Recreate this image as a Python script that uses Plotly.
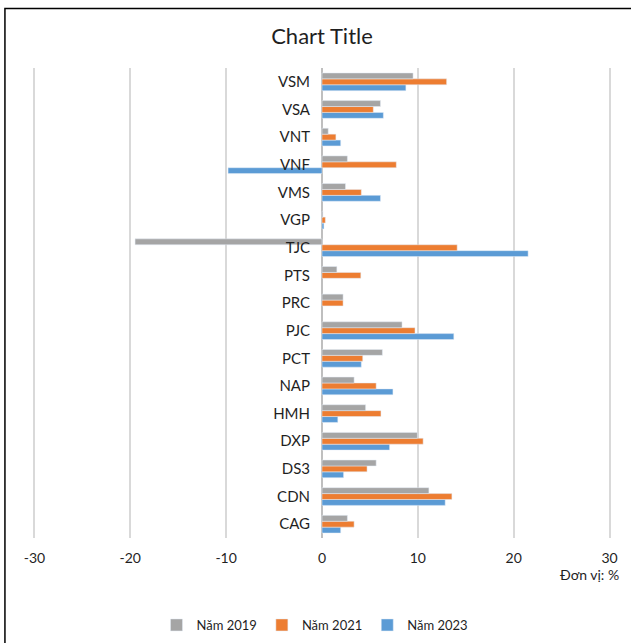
import plotly.graph_objects as go

# Ticker symbols, bottom to top
categories = ["CAG", "CDN", "DS3", "DXP", "HMH", "NAP", "PCT", "PJC", "PRC",
              "PTS", "TJC", "VGP", "VMS", "VNF", "VNT", "VSA", "VSM"]

# Values in % per year (None = no value reported)
nam_2019 = [2.65, 11.15, 5.65, 9.95, 4.55, 3.35, 6.3, 8.35, 2.2,
            1.55, -19.5, 0.1, 2.45, 2.65, 0.65, 6.1, 9.5]
nam_2021 = [3.35, 13.55, 4.7, 10.55, 6.15, 5.65, 4.25, 9.7, 2.2,
            4.05, 14.1, 0.35, 4.1, 7.75, 1.45, 5.35, 13.0]
nam_2023 = [1.95, 12.85, 2.25, 7.05, 1.65, 7.4, 4.1, 13.75, None,
            None, 21.5, 0.2, 6.1, -9.8, 1.95, 6.4, 8.75]

x_ticks = [-30, -20, -10, 0, 10, 20, 30]

FONT = "Lato, 'Open Sans', sans-serif"
TEXT = "#1f1f1f"

W, H = 631, 643
PAD = 0.25                       # small range padding so edge gridlines render
PX_PER_UNIT = 9.6
ML = 34 - PAD * PX_PER_UNIT
MR = W - (610 + PAD * PX_PER_UNIT)
MT, MB = 68, H - 538
PW = W - ML - MR
PH = H - MT - MB


def px_x(px):
    return (px - ML) / PW


def px_y(py):
    return (H - MB - py) / PH


fig = go.Figure()
# Added bottom-to-top within each group so 2019 sits on top
fig.add_trace(go.Bar(y=categories, x=nam_2023, orientation="h",
                     name="Năm 2023", marker_color="#5B9BD5"))
fig.add_trace(go.Bar(y=categories, x=nam_2021, orientation="h",
                     name="Năm 2021", marker_color="#ED7D31"))
fig.add_trace(go.Bar(y=categories, x=nam_2019, orientation="h",
                     name="Năm 2019", marker_color="#A5A5A5"))

fig.update_layout(
    width=W, height=H,
    margin=dict(l=ML, r=MR, t=MT, b=MB, autoexpand=False),
    paper_bgcolor="white", plot_bgcolor="white",
    barmode="group", bargap=0.36, bargroupgap=0,
    font=dict(family=FONT, color=TEXT, size=13),
    title=dict(text="Chart Title", x=px_x(322), xref="paper", xanchor="center",
               y=1 - 36 / H, yanchor="middle",
               font=dict(family=FONT, size=22, color=TEXT)),
    xaxis=dict(range=[-30 - PAD, 30 + PAD], tickvals=x_ticks,
               ticktext=[str(v) for v in x_ticks],
               showgrid=True, gridcolor="#D9D9D9", gridwidth=1.5,
               zeroline=True, zerolinecolor="#BFBFBF", zerolinewidth=2,
               showline=False, ticks="", ticklabelstandoff=10,
               automargin=False,
               tickfont=dict(size=14, color=TEXT), fixedrange=True),
    yaxis=dict(categoryorder="array", categoryarray=categories,
               anchor="free", position=0.5, showgrid=False, zeroline=False,
               showline=False, ticks="", ticklabelstandoff=12,
               automargin=False,
               tickfont=dict(size=15, color=TEXT), fixedrange=True),
    legend=dict(orientation="h", traceorder="reversed",
                xref="container", x=315 / W, xanchor="center",
                yref="container", y=1 - 625 / H, yanchor="middle",
                font=dict(size=13, color=TEXT)),
    showlegend=True,
)

fig.add_annotation(text="Đơn vị: %", xref="paper", yref="paper",
                   x=px_x(621), xanchor="right",
                   y=px_y(574), yanchor="middle",
                   showarrow=False, font=dict(size=14, color=TEXT))

# Chart frame
fig.add_shape(type="rect", xref="paper", yref="paper",
              x0=px_x(4.5), x1=px_x(640),
              y0=px_y(660), y1=px_y(8.5),
              line=dict(color="#000000", width=1.5), layer="below")

fig.write_html("out.html")
